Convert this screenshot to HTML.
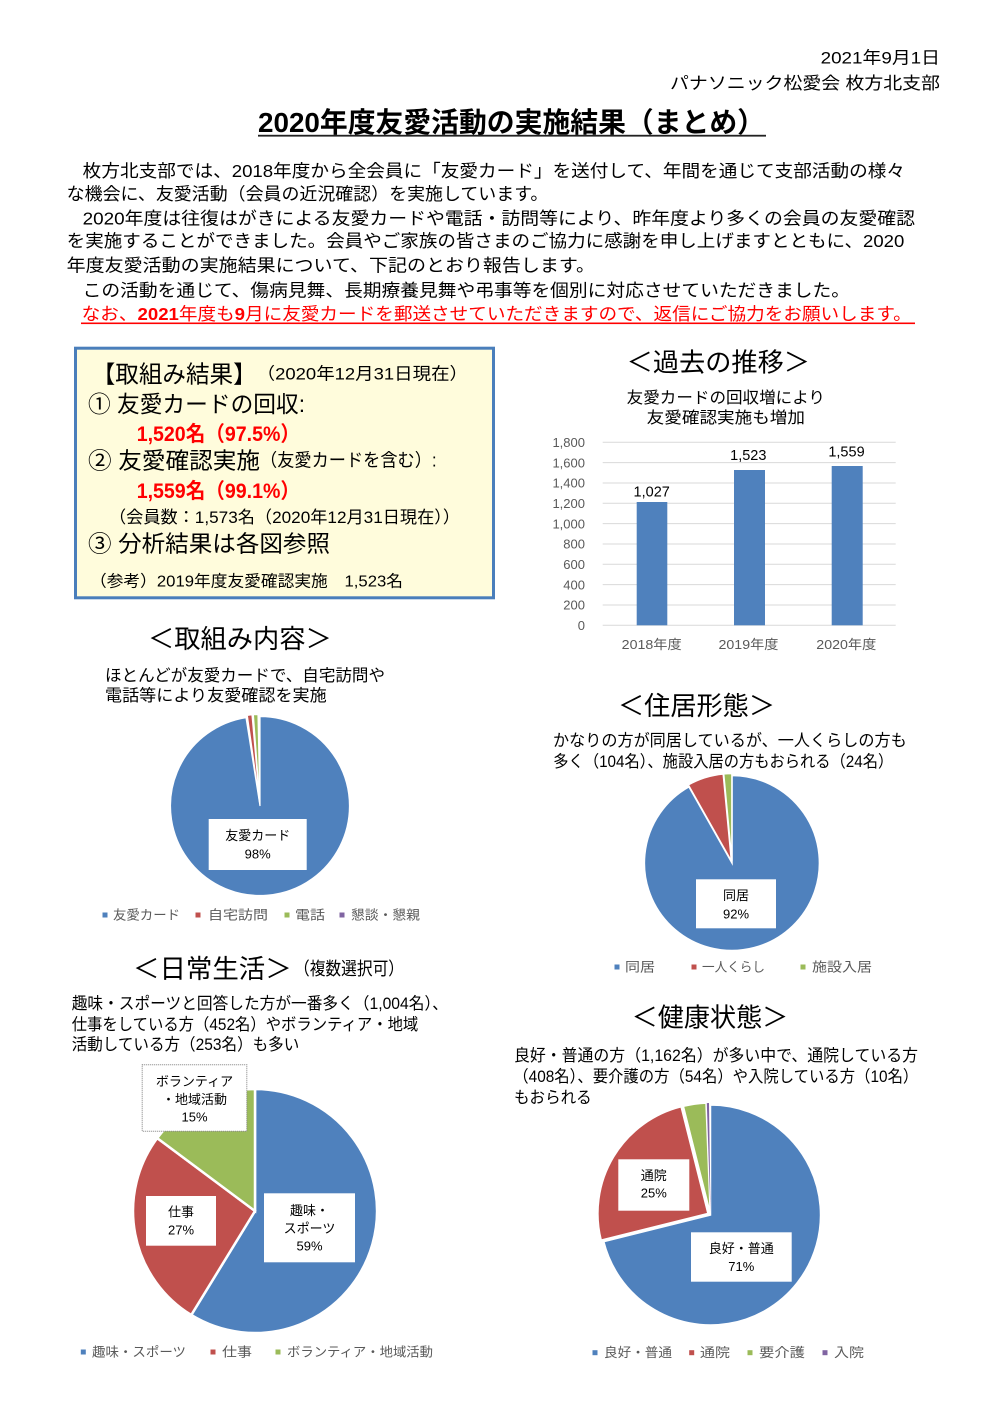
<!DOCTYPE html>
<html><head><meta charset="utf-8"><style>
html,body{margin:0;padding:0;background:#fff;}
svg{display:block;}
text{font-family:"Liberation Sans","Noto Sans CJK JP",sans-serif;}
</style></head><body>
<svg width="999" height="1407" viewBox="0 0 999 1407" xmlns="http://www.w3.org/2000/svg">
<rect width="999" height="1407" fill="#fff"/>
<!-- header -->
<text x="820.6" y="63.5" font-size="17" textLength="119.4" lengthAdjust="spacingAndGlyphs">2021年9月1日</text>
<text x="670" y="89" font-size="17" textLength="270" lengthAdjust="spacingAndGlyphs">パナソニック松愛会 枚方北支部</text>
<text x="258" y="132" font-size="28" font-weight="bold" textLength="507" lengthAdjust="spacingAndGlyphs">2020年度友愛活動の実施結果（まとめ）</text>
<rect x="258" y="134.8" width="508" height="1.8" fill="#222"/>
<!-- paragraph -->
<g font-size="17.5">
<text x="82.7" y="177" textLength="822.3" lengthAdjust="spacingAndGlyphs">枚方北支部では、2018年度から全会員に「友愛カード」を送付して、年間を通じて支部活動の様々</text>
<text x="66.7" y="200" textLength="481.6" lengthAdjust="spacingAndGlyphs">な機会に、友愛活動（会員の近況確認）を実施しています。</text>
<text x="82.7" y="224.5" textLength="832.3" lengthAdjust="spacingAndGlyphs">2020年度は往復はがきによる友愛カードや電話・訪問等により、昨年度より多くの会員の友愛確認</text>
<text x="66.7" y="247" textLength="837.6" lengthAdjust="spacingAndGlyphs">を実施することができました。会員やご家族の皆さまのご協力に感謝を申し上げますとともに、2020</text>
<text x="66.7" y="271.5" textLength="528.3" lengthAdjust="spacingAndGlyphs">年度友愛活動の実施結果について、下記のとおり報告します。</text>
<text x="82.7" y="296.5" textLength="767.3" lengthAdjust="spacingAndGlyphs">この活動を通じて、傷病見舞、長期療養見舞や弔事等を個別に対応させていただきました。</text>
<text x="81.7" y="319.8" fill="#ff0000" textLength="830" lengthAdjust="spacingAndGlyphs">なお、<tspan font-weight="bold">2021</tspan>年度も<tspan font-weight="bold">9</tspan>月に友愛カードを郵送させていただきますので、返信にご協力をお願いします。</text>
</g>
<rect x="81" y="322.5" width="834" height="1.6" fill="#ff0000"/>

<!-- result box -->
<rect x="75.5" y="348.2" width="418" height="249.6" fill="#FFFCDC" stroke="#4A7EBB" stroke-width="3"/>
<text x="91.7" y="382.5" font-size="24" textLength="165" lengthAdjust="spacingAndGlyphs">【取組み結果】</text>
<text x="256.7" y="379.5" font-size="17" textLength="211.3" lengthAdjust="spacingAndGlyphs">（2020年12月31日現在）</text>
<text x="88" y="412" font-size="23" textLength="217" lengthAdjust="spacingAndGlyphs">① 友愛カードの回収:</text>
<text x="136.7" y="441" font-size="21" font-weight="bold" fill="#ff0000" textLength="163.3" lengthAdjust="spacingAndGlyphs">1,520名（97.5%）</text>
<text x="88" y="468.7" font-size="23" textLength="172" lengthAdjust="spacingAndGlyphs">② 友愛確認実施</text>
<text x="260" y="466.7" font-size="18" textLength="176.7" lengthAdjust="spacingAndGlyphs">（友愛カードを含む）:</text>
<text x="136.7" y="498" font-size="21" font-weight="bold" fill="#ff0000" textLength="163.3" lengthAdjust="spacingAndGlyphs">1,559名（99.1%）</text>
<text x="109" y="523" font-size="17" textLength="351" lengthAdjust="spacingAndGlyphs">（会員数：1,573名（2020年12月31日現在））</text>
<text x="88" y="551.7" font-size="23" textLength="242" lengthAdjust="spacingAndGlyphs">③ 分析結果は各図参照</text>
<text x="90" y="586.7" font-size="16" textLength="313" lengthAdjust="spacingAndGlyphs">（参考）2019年度友愛確認実施　1,523名</text>

<!-- bar chart -->
<text x="626.7" y="371.5" font-size="26" textLength="183.3" lengthAdjust="spacingAndGlyphs">＜過去の推移＞</text>
<text x="626.7" y="402.8" font-size="16" textLength="198.3" lengthAdjust="spacingAndGlyphs">友愛カードの回収増により</text>
<text x="646.7" y="423" font-size="16" textLength="158.3" lengthAdjust="spacingAndGlyphs">友愛確認実施も増加</text>
<g stroke="#D9D9D9" stroke-width="1">
<line x1="602.7" x2="895.7" y1="442.3" y2="442.3"/>
<line x1="602.7" x2="895.7" y1="462.6" y2="462.6"/>
<line x1="602.7" x2="895.7" y1="483" y2="483"/>
<line x1="602.7" x2="895.7" y1="503.3" y2="503.3"/>
<line x1="602.7" x2="895.7" y1="523.6" y2="523.6"/>
<line x1="602.7" x2="895.7" y1="544" y2="544"/>
<line x1="602.7" x2="895.7" y1="564.3" y2="564.3"/>
<line x1="602.7" x2="895.7" y1="584.6" y2="584.6"/>
<line x1="602.7" x2="895.7" y1="605" y2="605"/>
<line x1="602.7" x2="895.7" y1="625.3" y2="625.3"/>
</g>
<g font-size="13" fill="#595959" text-anchor="end">
<text x="585" y="447">1,800</text>
<text x="585" y="467.3">1,600</text>
<text x="585" y="487.7">1,400</text>
<text x="585" y="508">1,200</text>
<text x="585" y="528.3">1,000</text>
<text x="585" y="548.7">800</text>
<text x="585" y="569">600</text>
<text x="585" y="589.3">400</text>
<text x="585" y="609.7">200</text>
<text x="585" y="630">0</text>
</g>
<g fill="#4F81BD">
<rect x="636.7" y="502" width="30.6" height="123.3"/>
<rect x="734" y="470" width="31" height="155.3"/>
<rect x="831.7" y="466" width="31" height="159.3"/>
</g>
<g font-size="14.5" text-anchor="middle">
<text x="651.7" y="496.7">1,027</text>
<text x="748.3" y="460">1,523</text>
<text x="846.5" y="456.7">1,559</text>
</g>
<g font-size="13" fill="#595959">
<text x="621.7" y="649" textLength="60" lengthAdjust="spacingAndGlyphs">2018年度</text>
<text x="718.5" y="649" textLength="60" lengthAdjust="spacingAndGlyphs">2019年度</text>
<text x="816.3" y="649" textLength="60" lengthAdjust="spacingAndGlyphs">2020年度</text>
</g>

<!-- pie 1 -->
<text x="148" y="648" font-size="26" textLength="183.7" lengthAdjust="spacingAndGlyphs">＜取組み内容＞</text>
<text x="105" y="681" font-size="16.5" textLength="280" lengthAdjust="spacingAndGlyphs">ほとんどが友愛カードで、自宅訪問や</text>
<text x="105" y="701" font-size="16.5" textLength="221.7" lengthAdjust="spacingAndGlyphs">電話等により友愛確認を実施</text>
<g stroke="#fff" stroke-width="1.2">
<path d="M260,806 L260,716.5 A89.5,89.5 0 1 1 246.0,717.6 Z" fill="#4F81BD"/>
<path d="M259.8,804 L247.3,715.4 A89.5,89.5 0 0 1 252.0,714.8 Z" fill="#C0504D"/>
<path d="M259.9,804 L253.35,714.7 A89.5,89.5 0 0 1 258.0,714.5 Z" fill="#9BBB59"/>
<path d="M259.9,804 L258.6,714.5 A89.5,89.5 0 0 1 259.4,714.5 Z" fill="#8064A2"/>
</g>
<rect x="208.7" y="819" width="98" height="51" fill="#fff"/>
<g font-size="13" text-anchor="middle">
<text x="257.7" y="840">友愛カード</text>
<text x="257.7" y="858.5">98%</text>
</g>
<g font-size="13" fill="#595959">
<rect x="102.5" y="912.5" width="5" height="5" fill="#4F81BD"/><text x="113" y="919.5" textLength="67" lengthAdjust="spacingAndGlyphs">友愛カード</text>
<rect x="195.5" y="912.5" width="5" height="5" fill="#C0504D"/><text x="208" y="919.5" textLength="60" lengthAdjust="spacingAndGlyphs">自宅訪問</text>
<rect x="284.5" y="912.5" width="5" height="5" fill="#9BBB59"/><text x="295" y="919.5" textLength="30" lengthAdjust="spacingAndGlyphs">電話</text>
<rect x="339.5" y="912.5" width="5" height="5" fill="#8064A2"/><text x="351" y="919.5" textLength="69" lengthAdjust="spacingAndGlyphs">懇談・懇親</text>
</g>

<!-- pie 2 -->
<text x="618" y="715" font-size="26" textLength="157" lengthAdjust="spacingAndGlyphs">＜住居形態＞</text>
<text x="553" y="746" font-size="16.5" textLength="353.7" lengthAdjust="spacingAndGlyphs">かなりの方が同居しているが、一人くらしの方も</text>
<text x="553.3" y="767" font-size="16.5" textLength="340" lengthAdjust="spacingAndGlyphs">多く（104名）、施設入居の方もおられる（24名）</text>
<g stroke="#fff" stroke-width="1.5">
<path d="M732,863 L732,775.5 A87.5,87.5 0 1 1 688.9,786.8 Z" fill="#4F81BD"/>
<path d="M731.4,861.1 L688.3,784.9 A87.5,87.5 0 0 1 723.2,774.0 Z" fill="#C0504D"/>
<path d="M731.9,861 L723.7,773.9 A87.5,87.5 0 0 1 731.9,773.5 Z" fill="#9BBB59"/>
</g>
<rect x="696" y="879.3" width="80" height="49" fill="#fff"/>
<g font-size="13" text-anchor="middle">
<text x="736" y="900">同居</text>
<text x="736" y="918.5">92%</text>
</g>
<g font-size="13" fill="#595959">
<rect x="614.5" y="964.5" width="5" height="5" fill="#4F81BD"/><text x="625" y="971.5" textLength="30" lengthAdjust="spacingAndGlyphs">同居</text>
<rect x="691.5" y="964.5" width="5" height="5" fill="#C0504D"/><text x="702" y="971.5" textLength="63" lengthAdjust="spacingAndGlyphs">一人くらし</text>
<rect x="800.5" y="964.5" width="5" height="5" fill="#9BBB59"/><text x="812" y="971.5" textLength="60" lengthAdjust="spacingAndGlyphs">施設入居</text>
</g>

<!-- pie 3 -->
<text x="133" y="978" font-size="26" textLength="158.7" lengthAdjust="spacingAndGlyphs">＜日常生活＞</text>
<text x="294" y="975" font-size="18" textLength="110" lengthAdjust="spacingAndGlyphs">（複数選択可）</text>
<text x="71.7" y="1009" font-size="16.5" textLength="376.3" lengthAdjust="spacingAndGlyphs">趣味・スポーツと回答した方が一番多く（1,004名）、</text>
<text x="71.7" y="1030" font-size="16.5" textLength="346.6" lengthAdjust="spacingAndGlyphs">仕事をしている方（452名）やボランティア・地域</text>
<text x="71.7" y="1050" font-size="16.5" textLength="227.6" lengthAdjust="spacingAndGlyphs">活動している方（253名）も多い</text>
<g stroke="#fff" stroke-width="2.5">
<path d="M255,1211 L255,1089 A122,122 0 1 1 191.25,1315.0 Z" fill="#4F81BD"/>
<path d="M255,1211 L191.25,1315.0 A122,122 0 0 1 157.2,1138.1 Z" fill="#C0504D"/>
<path d="M255,1211 L157.2,1138.1 A122,122 0 0 1 255,1089 Z" fill="#9BBB59"/>
</g>
<rect x="142.2" y="1064.8" width="104.6" height="66.4" fill="#fff" stroke="#7f7f7f" stroke-width="1" stroke-dasharray="1,1"/>
<rect x="146" y="1196" width="70" height="49.7" fill="#fff"/>
<rect x="264" y="1193.3" width="91" height="69" fill="#fff"/>
<g font-size="13" text-anchor="middle">
<text x="194.5" y="1086">ボランティア</text>
<text x="194.5" y="1104">・地域活動</text>
<text x="194.5" y="1121.5">15%</text>
<text x="181" y="1216.7">仕事</text>
<text x="181" y="1234.5">27%</text>
<text x="309.5" y="1215">趣味・</text>
<text x="309.5" y="1233">スポーツ</text>
<text x="309.5" y="1250.5">59%</text>
</g>
<g font-size="13" fill="#595959">
<rect x="80.8" y="1349.5" width="5" height="5" fill="#4F81BD"/><text x="92" y="1356.5" textLength="94" lengthAdjust="spacingAndGlyphs">趣味・スポーツ</text>
<rect x="210.5" y="1349.5" width="5" height="5" fill="#C0504D"/><text x="222" y="1356.5" textLength="30" lengthAdjust="spacingAndGlyphs">仕事</text>
<rect x="275.5" y="1349.5" width="5" height="5" fill="#9BBB59"/><text x="287" y="1356.5" textLength="146" lengthAdjust="spacingAndGlyphs">ボランティア・地域活動</text>
</g>

<!-- pie 4 -->
<text x="631.7" y="1026.5" font-size="26" textLength="156.6" lengthAdjust="spacingAndGlyphs">＜健康状態＞</text>
<text x="514" y="1061" font-size="16.5" textLength="404" lengthAdjust="spacingAndGlyphs">良好・普通の方（1,162名）が多い中で、通院している方</text>
<text x="513.3" y="1082" font-size="16.5" textLength="405" lengthAdjust="spacingAndGlyphs">（408名）、要介護の方（54名）や入院している方（10名）</text>
<text x="514" y="1103" font-size="16.5" textLength="77.7" lengthAdjust="spacingAndGlyphs">もおられる</text>
<g stroke="#fff" stroke-width="1.5">
<path d="M710.5,1215 L710.5,1105 A110,110 0 1 1 603.8,1241.6 Z" fill="#4F81BD"/>
<path d="M707.9,1213.5 L601.2,1240.1 A110,110 0 0 1 681.1,1106.8 Z" fill="#C0504D"/>
<path d="M710.2,1213 L683.4,1106.3 A110,110 0 0 1 706.0,1103.1 Z" fill="#9BBB59"/>
</g>
<path d="M710.5,1213 L706.8,1103.1 A110,110 0 0 1 709,1103 Z" fill="#8064A2"/>
<rect x="618.3" y="1159.3" width="71" height="51.4" fill="#fff"/>
<rect x="691" y="1232.3" width="100.7" height="49.4" fill="#fff"/>
<g font-size="13" text-anchor="middle">
<text x="653.8" y="1180">通院</text>
<text x="653.8" y="1197.5">25%</text>
<text x="741.3" y="1253">良好・普通</text>
<text x="741.3" y="1271">71%</text>
</g>
<g font-size="13" fill="#595959">
<rect x="592.5" y="1350.2" width="5" height="5" fill="#4F81BD"/><text x="604" y="1357" textLength="68" lengthAdjust="spacingAndGlyphs">良好・普通</text>
<rect x="689.2" y="1350.2" width="5" height="5" fill="#C0504D"/><text x="700" y="1357" textLength="30" lengthAdjust="spacingAndGlyphs">通院</text>
<rect x="747.5" y="1350.2" width="5" height="5" fill="#9BBB59"/><text x="759" y="1357" textLength="46" lengthAdjust="spacingAndGlyphs">要介護</text>
<rect x="822.5" y="1350.2" width="5" height="5" fill="#8064A2"/><text x="834" y="1357" textLength="30" lengthAdjust="spacingAndGlyphs">入院</text>
</g>
</svg>
</body></html>
